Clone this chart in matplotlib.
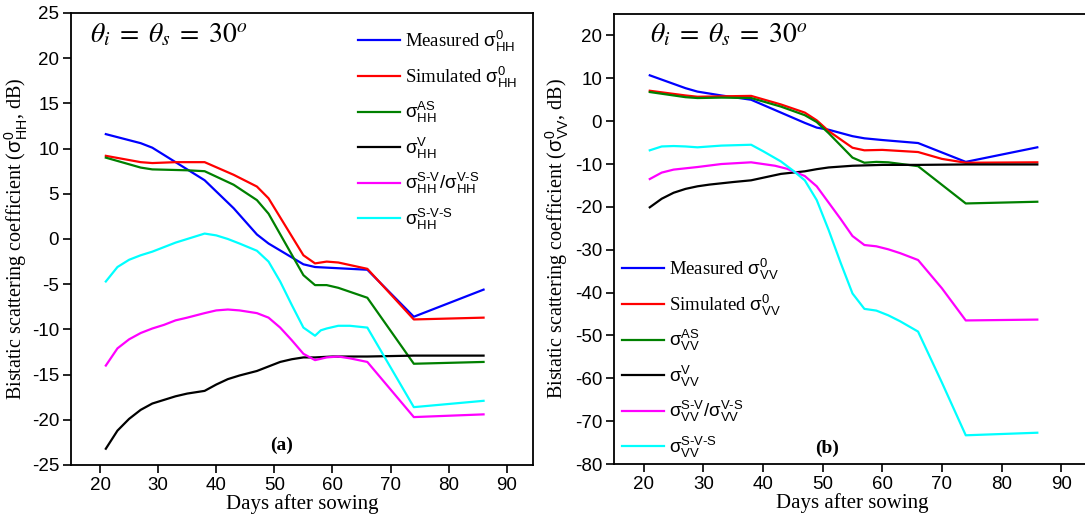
import matplotlib
matplotlib.use("Agg")
import matplotlib.pyplot as plt

plt.rcParams['font.family'] = 'Liberation Serif'
plt.rcParams['mathtext.fontset'] = 'custom'
plt.rcParams['mathtext.rm'] = 'Liberation Sans'
plt.rcParams['mathtext.it'] = 'Liberation Sans:italic'
plt.rcParams['mathtext.bf'] = 'Liberation Sans:bold'
plt.rcParams['axes.unicode_minus'] = False

# ---- panel (a): HH ----
hh_meas_x = [21, 27, 29, 33, 38, 43, 47, 49, 55, 57, 66, 74, 86]
hh_meas_y = [11.6, 10.6, 10.1, 8.5, 6.5, 3.4, 0.5, -0.5, -2.8, -3.1, -3.4, -8.6, -5.6]

hh_sim_x = [21, 27, 29, 33, 38, 43, 47, 49, 55, 57, 59, 61, 66, 74, 86]
hh_sim_y = [9.2, 8.5, 8.4, 8.5, 8.5, 7.1, 5.8, 4.5, -1.8, -2.7, -2.5, -2.6, -3.3, -8.9, -8.7]

hh_as_x = [21, 27, 29, 35, 38, 43, 47, 49, 55, 57, 59, 61, 66, 74, 86]
hh_as_y = [9.0, 7.9, 7.7, 7.6, 7.5, 6.0, 4.3, 2.8, -4.0, -5.1, -5.1, -5.4, -6.5, -13.8, -13.6]

hh_v_x = [21, 23, 25, 27, 29, 31, 33, 35, 38, 40, 42, 44, 47, 49, 51, 53, 55, 57, 60, 66, 74, 86]
hh_v_y = [-23.2, -21.2, -19.9, -18.9, -18.2, -17.8, -17.4, -17.1, -16.8, -16.1, -15.5, -15.1,
          -14.6, -14.1, -13.6, -13.3, -13.1, -13.1, -13.0, -13.0, -12.9, -12.9]

hh_sv_x = [21, 23, 25, 27, 29, 31, 33, 35, 38, 40, 42, 44, 47, 49, 51, 53, 55, 57, 59, 61, 63, 66, 74, 86]
hh_sv_y = [-14.0, -12.1, -11.1, -10.4, -9.9, -9.5, -9.0, -8.7, -8.2, -7.9, -7.8, -7.9, -8.2, -8.7,
           -9.8, -11.2, -12.7, -13.4, -13.1, -13.0, -13.2, -13.6, -19.7, -19.4]

hh_svs_x = [21, 23, 25, 27, 29, 31, 33, 35, 38, 40, 42, 44, 47, 49, 51, 53, 55, 57, 58, 59, 61, 63, 66, 74, 86]
hh_svs_y = [-4.7, -3.1, -2.3, -1.8, -1.4, -0.9, -0.4, 0.0, 0.6, 0.4, 0.0, -0.5, -1.3, -2.5, -4.7,
            -7.3, -9.8, -10.7, -10.1, -9.9, -9.6, -9.6, -9.8, -18.6, -17.9]

# ---- panel (b): VV ----
vv_meas_x = [21, 27, 29, 33, 38, 43, 47, 49, 51, 55, 57, 60, 66, 74, 86]
vv_meas_y = [10.7, 7.7, 6.9, 6.0, 5.0, 2.0, -0.4, -1.5, -2.0, -3.5, -4.0, -4.4, -5.1, -9.5, -6.1]

vv_sim_x = [21, 27, 29, 33, 38, 43, 47, 49, 51, 55, 57, 60, 66, 70, 74, 86]
vv_sim_y = [7.1, 6.0, 5.7, 5.8, 5.9, 3.9, 2.0, 0.2, -2.3, -6.2, -6.8, -6.7, -7.2, -8.8, -9.7, -9.6]

vv_as_x = [21, 27, 29, 33, 38, 43, 47, 49, 51, 55, 57, 59, 61, 66, 74, 86]
vv_as_y = [6.8, 5.6, 5.4, 5.5, 5.4, 3.4, 1.4, -0.2, -2.8, -8.5, -9.7, -9.5, -9.6, -10.5, -19.2, -18.8]

vv_v_x = [21, 23, 25, 27, 29, 31, 33, 35, 38, 40, 43, 47, 49, 51, 55, 60, 66, 74, 86]
vv_v_y = [-20.1, -18.1, -16.7, -15.8, -15.2, -14.8, -14.5, -14.2, -13.8, -13.2, -12.3, -11.7,
          -11.2, -10.8, -10.4, -10.2, -10.2, -10.1, -10.1]

vv_sv_x = [21, 23, 25, 27, 29, 33, 38, 42, 44, 47, 49, 51, 53, 55, 57, 59, 61, 63, 66, 70, 74, 86]
vv_sv_y = [-13.5, -12.0, -11.3, -11.0, -10.7, -10.0, -9.6, -10.4, -11.1, -12.8, -15.2, -19.0,
           -22.8, -26.8, -28.9, -29.2, -29.9, -30.8, -32.4, -39.0, -46.5, -46.3]

vv_svs_x = [21, 23, 25, 27, 29, 31, 33, 38, 40, 43, 45, 47, 49, 51, 53, 55, 57, 59, 61, 63, 66, 70, 74, 86]
vv_svs_y = [-6.8, -5.9, -5.8, -5.9, -6.1, -5.9, -5.7, -5.5, -7.0, -9.4, -11.5, -13.8, -18.4, -25.4,
            -33.0, -40.2, -43.8, -44.2, -45.3, -46.7, -49.1, -61.0, -73.3, -72.7]

colors = ['#0000ff', '#ff0000', '#008000', '#000000', '#ff00ff', '#00ffff']

def lbl(pol):
    p = r'\mathrm{' + pol + '}'
    s = r'\mathrm{σ}'
    return [
        'Measured $' + s + '^{0}_{' + p + '}$',
        'Simulated $' + s + '^{0}_{' + p + '}$',
        '$' + s + r'^{\mathrm{AS}}_{' + p + '}$',
        '$' + s + r'^{\mathrm{V}}_{' + p + '}$',
        '$' + s + r'^{\text{S-V}}_{' + p + '}/' + s + r'^{\text{V-S}}_{' + p + '}$',
        '$' + s + r'^{\text{S-V-S}}_{' + p + '}$',
    ]

fig = plt.figure(figsize=(10.85, 5.22), dpi=100)
ax1 = fig.add_axes([0.0654, 0.1092, 0.4258, 0.8659])
ax2 = fig.add_axes([0.5659, 0.1111, 0.4396, 0.862])

series_a = [(hh_meas_x, hh_meas_y), (hh_sim_x, hh_sim_y), (hh_as_x, hh_as_y),
            (hh_v_x, hh_v_y), (hh_sv_x, hh_sv_y), (hh_svs_x, hh_svs_y)]
series_b = [(vv_meas_x, vv_meas_y), (vv_sim_x, vv_sim_y), (vv_as_x, vv_as_y),
            (vv_v_x, vv_v_y), (vv_sv_x, vv_sv_y), (vv_svs_x, vv_svs_y)]

for (x, y), c, l in zip(series_a, colors, lbl('HH')):
    ax1.plot(x, y, color=c, lw=1.6, label=l)
for (x, y), c, l in zip(series_b, colors, lbl('VV')):
    ax2.plot(x, y, color=c, lw=1.6, label=l)

ax1.set_ylim(-25, 25)
ax1.set_yticks(range(-25, 26, 5))
ax1.set_xlim(15, 94.5)
ax2.set_ylim(-80, 25)
ax2.set_yticks(range(-80, 21, 10))
ax2.set_xlim(15, 95)

for ax in (ax1, ax2):
    ax.set_xticks(range(20, 91, 10))
    ax.tick_params(direction='out', length=5.5, width=1.2, labelsize=13.5, pad=3)
    for lab in ax.get_xticklabels() + ax.get_yticklabels():
        lab.set_fontfamily('Liberation Sans')
    for sp in ax.spines.values():
        sp.set_linewidth(1.3)
    ax.set_xlabel('Days after sowing', fontsize=15, labelpad=0)

ax1.set_ylabel(r'Bistatic scattering coefficient ($\mathrm{σ}^{0}_{\mathrm{HH}}$, dB)', fontsize=14.5, labelpad=1)
ax2.set_ylabel(r'Bistatic scattering coefficient ($\mathrm{σ}^{0}_{\mathrm{VV}}$, dB)', fontsize=14.5, labelpad=3)

ax1.text(18.3, 22.6, r'$\theta_i\;=\;\theta_s\;=\;30^o$', fontsize=20, va='center', math_fontfamily='stix')
ax2.text(21, 20, r'$\theta_i\;=\;\theta_s\;=\;30^o$', fontsize=20, va='center', math_fontfamily='stix')

ax1.text(51.3, -22.8, '(a)', fontsize=14, fontweight='bold', ha='center', va='center')
ax2.text(50.8, -76.3, '(b)', fontsize=14, fontweight='bold', ha='center', va='center')

ax1.legend(loc='upper left', bbox_to_anchor=(0.621, 0.965), frameon=False, fontsize=13.5,
           handlelength=2.25, handletextpad=0.25, labelspacing=0.56, borderpad=0, borderaxespad=0)
ax2.legend(loc='lower left', bbox_to_anchor=(0.017, 0.009), frameon=False, fontsize=13.5,
           handlelength=2.25, handletextpad=0.25, labelspacing=0.56, borderpad=0, borderaxespad=0)

fig.savefig('out.png', dpi=100)
